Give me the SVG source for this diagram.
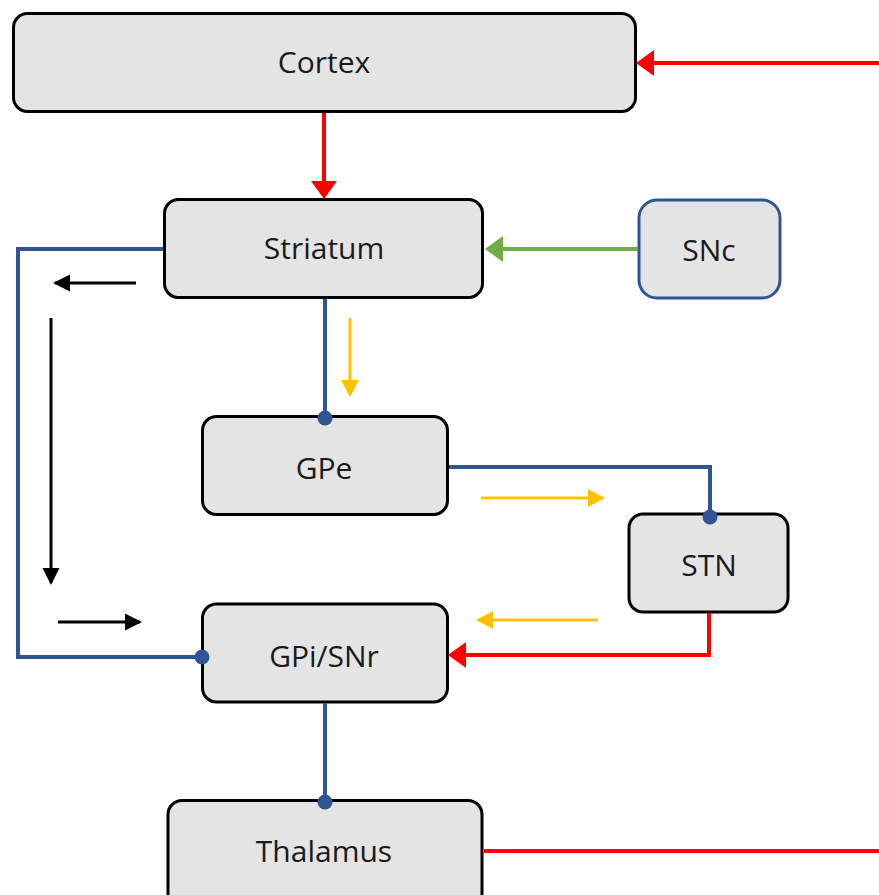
<svg xmlns="http://www.w3.org/2000/svg" width="879" height="895" viewBox="0 0 879 895">
<style>
.node rect{fill:#e4e4e4;stroke:#000;stroke-width:3}
.node text{font-family:"Open Sans","Noto Sans",sans-serif;font-size:30px;fill:#1a1a1a;text-anchor:middle}
.blue{stroke:#2f5597;stroke-width:4;fill:none}
.red{stroke:#ff0000;stroke-width:4;fill:none}
.green{stroke:#70ad47;stroke-width:4;fill:none}
.yel{stroke:#ffc000;stroke-width:3;fill:none}
.blk{stroke:#000;stroke-width:3;fill:none}
</style>
<defs>
<marker id="hr" markerUnits="userSpaceOnUse" markerWidth="20" markerHeight="28" refX="15" refY="13" orient="auto"><path d="M0,0 L18,13 L0,26 z" fill="#ff0000"/></marker>
<marker id="hg" markerUnits="userSpaceOnUse" markerWidth="20" markerHeight="28" refX="15" refY="13" orient="auto"><path d="M0,0 L18,13 L0,26 z" fill="#70ad47"/></marker>
<marker id="hy" markerUnits="userSpaceOnUse" markerWidth="20" markerHeight="20" refX="15" refY="9" orient="auto"><path d="M0,0 L17,9 L0,18 z" fill="#ffc000"/></marker>
<marker id="hk" markerUnits="userSpaceOnUse" markerWidth="20" markerHeight="20" refX="15" refY="8.5" orient="auto"><path d="M0,0 L17,8.5 L0,17 z" fill="#000"/></marker>
<marker id="dot" markerUnits="userSpaceOnUse" markerWidth="18" markerHeight="18" refX="9" refY="9" orient="auto"><circle cx="9" cy="9" r="7.5" fill="#2f5597"/></marker>
</defs>
<g id="cortex" class="node"><rect x="13.5" y="13.5" width="622" height="98" rx="14"/><text x="324" y="73">Cortex</text></g>
<g id="striatum" class="node"><rect x="164.5" y="199.5" width="318" height="98" rx="14"/><text x="324" y="259">Striatum</text></g>
<g id="snc" class="node"><rect x="639" y="200" width="141" height="98" rx="18" style="stroke:#2f5597"/><text x="709" y="261">SNc</text></g>
<g id="gpe" class="node"><rect x="202.5" y="416.5" width="245" height="98" rx="14"/><text x="324" y="479">GPe</text></g>
<g id="stn" class="node"><rect x="629" y="514" width="159" height="98" rx="14"/><text x="709" y="576">STN</text></g>
<g id="gpi" class="node"><rect x="202.5" y="604" width="245" height="98" rx="14"/><text x="324" y="667">GPi/SNr</text></g>
<g id="thalamus" class="node"><rect x="168" y="800.5" width="314" height="115" rx="14"/><text x="324" y="862">Thalamus</text></g>
<g id="connectors">
<path class="red" d="M879,63 H639" marker-end="url(#hr)"/>
<path class="red" d="M324,113 V196" marker-end="url(#hr)"/>
<path class="green" d="M638,249 H488" marker-end="url(#hg)"/>
<path class="blue" d="M163,249 H18 V657 H202" marker-end="url(#dot)"/>
<path class="blue" d="M325,299 V418" marker-end="url(#dot)"/>
<path class="blue" d="M449,467 H710 V517" marker-end="url(#dot)"/>
<path class="red" d="M709,613 V655 H451" marker-end="url(#hr)"/>
<path class="blue" d="M325,703 V802" marker-end="url(#dot)"/>
<path class="red" d="M484,851 H879"/>
<path class="blk" d="M136,283 H55" marker-end="url(#hk)"/>
<path class="blk" d="M51,318 V583" marker-end="url(#hk)"/>
<path class="blk" d="M58,622 H140" marker-end="url(#hk)"/>
<path class="yel" d="M350,318 V395" marker-end="url(#hy)"/>
<path class="yel" d="M481,498 H603" marker-end="url(#hy)"/>
<path class="yel" d="M598,620 H478" marker-end="url(#hy)"/>
</g>
</svg>
